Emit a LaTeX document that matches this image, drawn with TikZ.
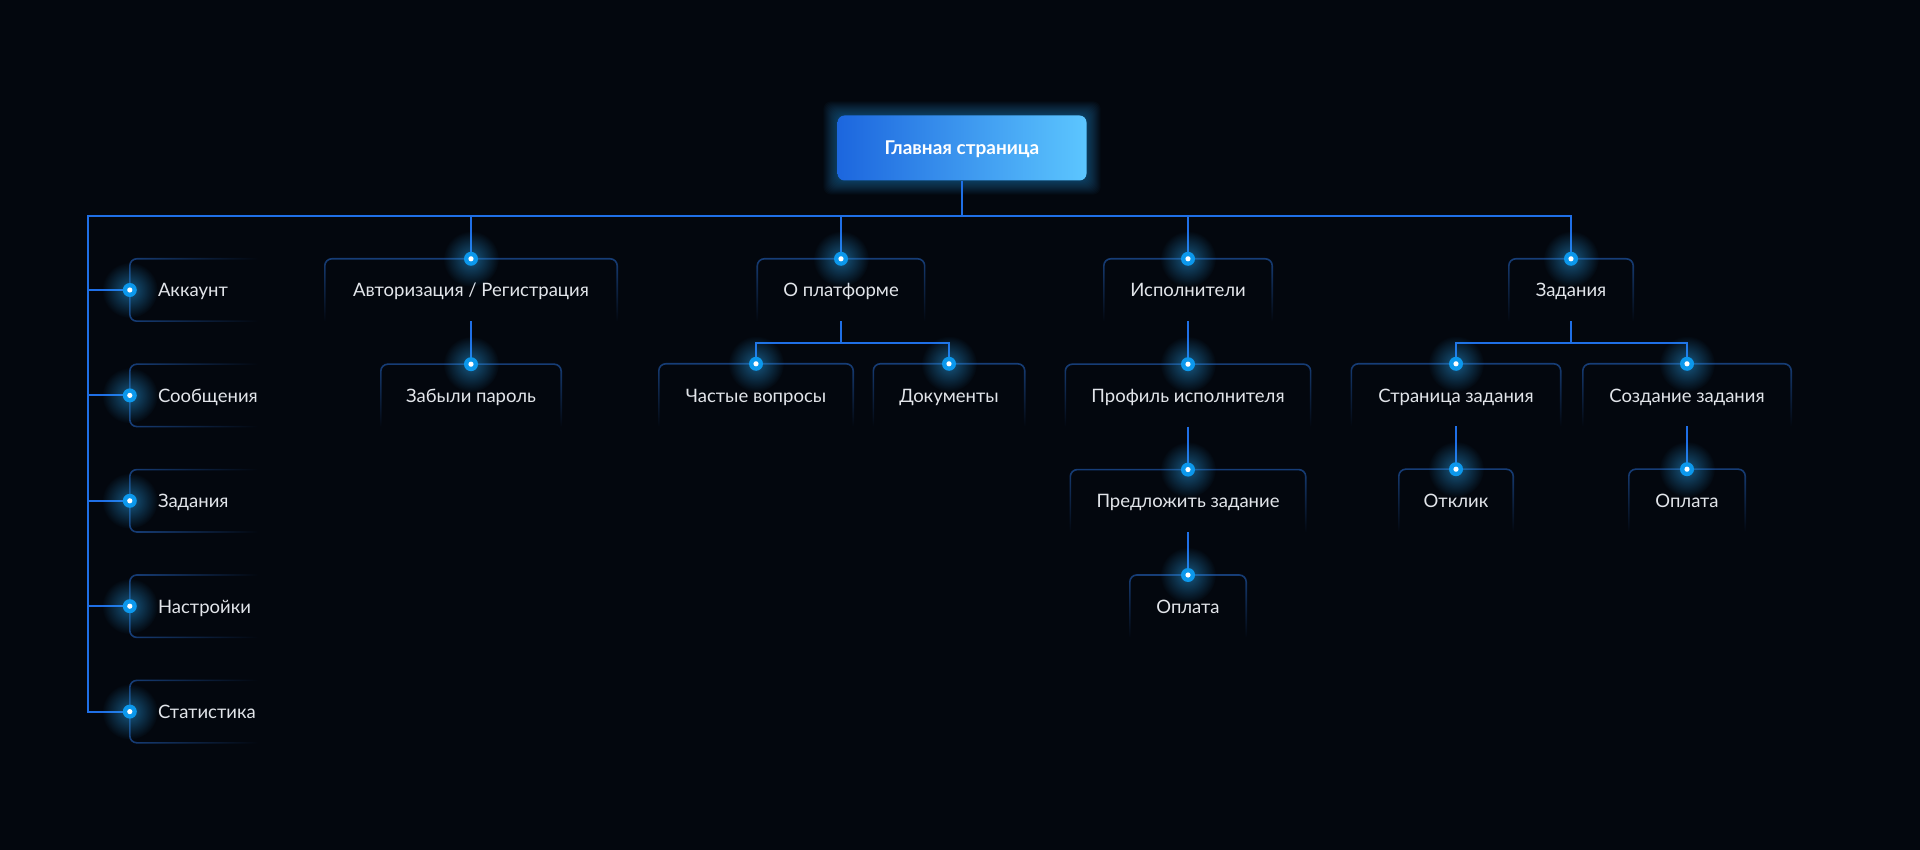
\documentclass[tikz,border=0pt]{standalone}
\usepackage{fontspec}
\setmainfont{Lato}
\usetikzlibrary{positioning,fadings,backgrounds}

\definecolor{bg}{HTML}{03070E}
\definecolor{linkblue}{HTML}{1F6FE6}
\definecolor{frameblue}{HTML}{173E78}
\definecolor{dotblue}{HTML}{0C98EC}
\definecolor{glowblue}{HTML}{2AA8F5}
\definecolor{mainlight}{HTML}{5CC6FF}
\definecolor{maindark}{HTML}{1C66DE}
\definecolor{label}{HTML}{E2E5EA}

\tikzfading[name=fade down, top color=transparent!0, middle color=transparent!45, bottom color=transparent!100]
\tikzfading[name=fade right, left color=transparent!0, middle color=transparent!60, right color=transparent!100]
\tikzfading[name=glow fade, inner color=transparent!50, outer color=transparent!100]

\newcommand{\topframe}[1]{\draw[frame line, path fading=fade down] (#1.south west) -- (#1.north west) -- (#1.north east) -- (#1.south east);}
\newcommand{\sideframe}[1]{\draw[frame line, path fading=fade right] ([xshift=-38pt]#1.north east) -- (#1.north west) -- (#1.south west) -- ([xshift=-38pt]#1.south east);}
\newcommand{\hubdot}[1]{\fill[glowblue, path fading=glow fade] (#1) circle (28pt); \fill[dotblue] (#1) circle (7pt); \fill[white] (#1) circle (2.6pt);}

\begin{document}
\begin{tikzpicture}[x=1pt,y=-1pt,
  main node/.style={rounded corners=7pt, minimum width=249pt, minimum height=65pt, left color=maindark, right color=mainlight, text=white, text height=15pt, text depth=2pt, font=\bfseries\fontsize{19}{22}\selectfont},
  page node/.style={minimum width=#1pt, minimum height=62pt, inner xsep=0pt, text=label, text height=16pt, text depth=2pt, font=\fontsize{18.5}{22}\selectfont},
  menu node/.style={minimum height=62pt, text width=110pt, inner xsep=28pt, align=left, text=label, text height=16pt, text depth=2pt, font=\fontsize{18.5}{22}\selectfont},
  frame line/.style={draw=frameblue, line width=1.6pt, rounded corners=7pt},
  link/.style={draw=linkblue, line width=2pt}]
  \begin{scope}[on background layer]
    \fill[bg] (0,0) rectangle (1920,850);
  \end{scope}
  \useasboundingbox (0,0) rectangle (1920,850);

  \node[main node] (main) at (962,148) {Главная страница};

  \node[menu node] (acc) at (213,290) {Аккаунт};
  \node[menu node, below=43pt of acc] (msg) {Сообщения};
  \node[menu node, below=43pt of msg] (tsk) {Задания};
  \node[menu node, below=43pt of tsk] (set) {Настройки};
  \node[menu node, below=43pt of set] (stat) {Статистика};

  \node[page node=292] (auth) at (471,290) {Авторизация / Регистрация};
  \node[page node=180, below=43pt of auth] (forgot) {Забыли пароль};
  \node[page node=167] (about) at (841,290) {О платформе};
  \node[page node=194] (faq) at (756,395) {Частые вопросы};
  \node[page node=151] (docs) at (949,395) {Документы};
  \node[page node=168] (perf) at (1188,290) {Исполнители};
  \node[page node=245, below=43pt of perf] (profile) {Профиль исполнителя};
  \node[page node=235, below=43pt of profile] (offer) {Предложить задание};
  \node[page node=116, below=43pt of offer] (pay) {Оплата};
  \node[page node=124] (tasks) at (1571,290) {Задания};
  \node[page node=209] (taskpage) at (1456,395) {Страница задания};
  \node[page node=208] (create) at (1687,395) {Создание задания};
  \node[page node=114, below=43pt of taskpage] (reply) {Отклик};
  \node[page node=116, below=43pt of create] (paytask) {Оплата};

  \foreach \n in {auth,forgot,about,faq,docs,perf,profile,offer,pay,tasks,taskpage,create,reply,paytask}
    \topframe{\n};
  \foreach \n in {acc,msg,tsk,set,stat}
    \sideframe{\n};

  \coordinate (bus) at (88,216);
  \draw[link] (main.south) -- (main.south |- bus) -- (bus) |- (stat.west);
  \foreach \n in {acc,msg,tsk,set}
    \draw[link] (bus |- \n.west) -- (\n.west);
  \foreach \n in {auth,about,perf,tasks}
    \draw[link] (main.south |- bus) -| (\n.north);
  \draw[link] (auth.south) -- (forgot.north);
  \draw[link] (about.south) -- ++(0,22) -| (faq.north);
  \draw[link] (about.south) -- ++(0,22) -| (docs.north);
  \draw[link] (perf.south) -- (profile.north) (profile.south) -- (offer.north) (offer.south) -- (pay.north);
  \draw[link] (tasks.south) -- ++(0,22) -| (taskpage.north);
  \draw[link] (tasks.south) -- ++(0,22) -| (create.north);
  \draw[link] (taskpage.south) -- (reply.north) (create.south) -- (paytask.north);

  \foreach \n in {auth,forgot,about,faq,docs,perf,profile,offer,pay,tasks,taskpage,create,reply,paytask}
    \hubdot{\n.north};
  \foreach \n in {acc,msg,tsk,set,stat}
    \hubdot{\n.west};

  \begin{scope}[on background layer]
    \foreach \g in {1,...,14}
      \fill[glowblue, opacity=0.03, rounded corners=8pt] ([shift={(-\g*1pt,-\g*1pt)}]main.south west) rectangle ([shift={(\g*1pt,\g*1pt)}]main.north east);
  \end{scope}
\end{tikzpicture}
\end{document}
